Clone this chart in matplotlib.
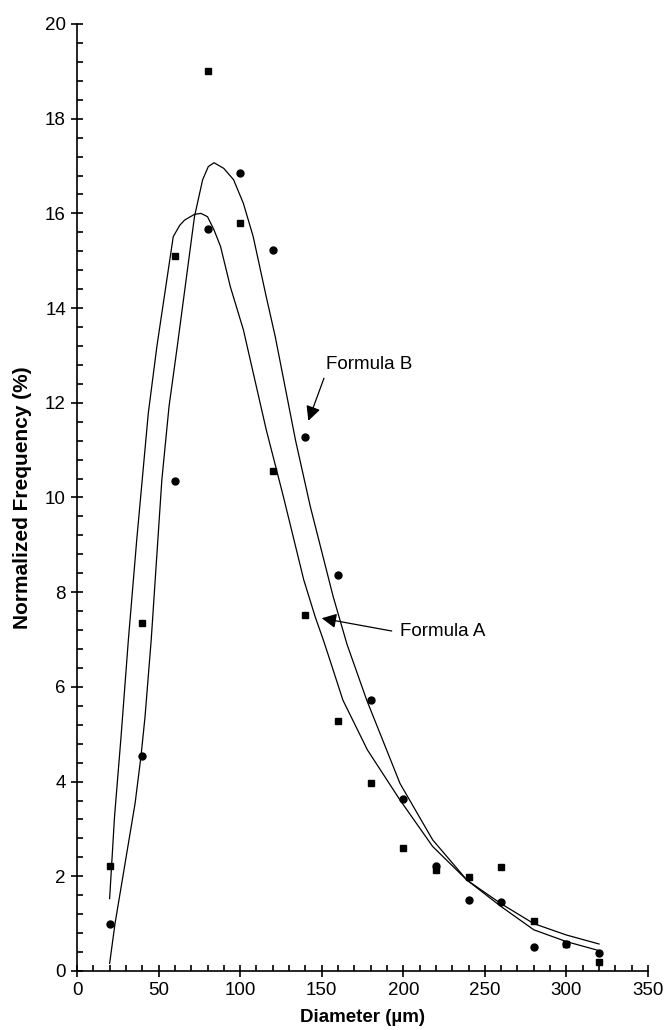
import numpy as np
import matplotlib.pyplot as plt
from matplotlib.ticker import MultipleLocator

plt.rcParams['font.family'] = ['Liberation Sans', 'DejaVu Sans']

# Measured points (square / circle)
diam = [20, 40, 60, 80, 100, 120, 140, 160, 180, 200, 220, 240, 260, 280, 300, 320]
freq_sq = [2.22, 7.35, 15.1, 19.0, 15.8, 10.57, 7.52, 5.28, 3.98, 2.6, 2.13, 1.98, 2.2, 1.06, 0.56, 0.19]
freq_ci = [1.0, 4.53, 10.35, 15.68, 16.85, 15.22, 11.28, 8.36, 5.73, 3.64, 2.21, 1.5, 1.45, 0.51, 0.57, 0.37]

# Formula A curve
a_x = [20, 23, 27, 31.5, 36.6, 43.7, 49, 59, 63, 66, 72, 76, 80, 84, 88, 94, 102,
       116, 126.5, 139, 146, 151, 155, 163, 178, 198, 218, 239, 260, 280, 300, 320]
a_y = [1.53, 3.26, 4.95, 7.0, 9.1, 11.78, 13.2, 15.51, 15.75, 15.86, 15.98, 16.0, 15.93,
       15.65, 15.3, 14.45, 13.54, 11.43, 10.02, 8.26, 7.48, 6.99, 6.57, 5.72, 4.67, 3.61,
       2.63, 1.92, 1.42, 1.0, 0.76, 0.57]

# Formula B curve
b_x = [20, 23.3, 35.6, 39.2, 41.7, 45.5, 52, 56.4, 61.5, 72, 77, 80.5, 84, 90, 96, 102, 108,
       116, 121.5, 134, 143, 157, 165.5, 177.6, 198, 218, 239, 260, 280, 300, 320]
b_y = [0.16, 1.0, 3.54, 4.53, 5.37, 7.0, 10.37, 11.92, 13.2, 15.93, 16.71, 16.99, 17.07,
       16.95, 16.71, 16.21, 15.51, 14.24, 13.4, 11.2, 9.81, 7.91, 6.9, 5.72, 3.96, 2.77, 1.92,
       1.36, 0.87, 0.62, 0.43]

fig = plt.figure(figsize=(6.65, 10.3), dpi=100)
ax = fig.add_axes([0.1158, 0.0573, 0.8586, 0.9194])

ax.plot(a_x, a_y, color='black', lw=0.9)
ax.plot(b_x, b_y, color='black', lw=0.9)
ax.plot(diam, freq_ci, 'o', color='black', markersize=5, linestyle='none')
ax.plot(diam, freq_sq, 's', color='black', markersize=5, linestyle='none')

# Annotations: labels and arrows
arrow = dict(arrowstyle='-|>', color='black', lw=0.9, mutation_scale=22,
             shrinkA=0, shrinkB=0)
ax.text(152.5, 12.8, 'Formula B', fontsize=13.5, va='center', ha='left')
ax.annotate('', xy=(141.8, 11.62), xytext=(151.4, 12.52), arrowprops=arrow)
ax.text(198, 7.18, 'Formula A', fontsize=13.5, va='center', ha='left')
ax.annotate('', xy=(150, 7.45), xytext=(192.9, 7.18), arrowprops=arrow)

ax.set_xlim(0, 350)
ax.set_ylim(0, 20)
ax.xaxis.set_major_locator(MultipleLocator(50))
ax.xaxis.set_minor_locator(MultipleLocator(10))
ax.yaxis.set_major_locator(MultipleLocator(2))
ax.yaxis.set_minor_locator(MultipleLocator(0.4))

for s in ['top', 'right']:
    ax.spines[s].set_visible(False)
for s in ['left', 'bottom']:
    ax.spines[s].set_linewidth(1.2)

ax.tick_params(which='major', direction='inout', length=9, width=1.2, labelsize=13.5)
ax.tick_params(which='minor', direction='in', length=4, width=1.2)

ax.set_xlabel('Diameter (µm)', fontsize=13.5, fontweight='bold', labelpad=7)
ax.set_ylabel('Normalized Frequency (%)', fontsize=15, fontweight='bold', labelpad=9)

fig.savefig('out.png', dpi=100)
